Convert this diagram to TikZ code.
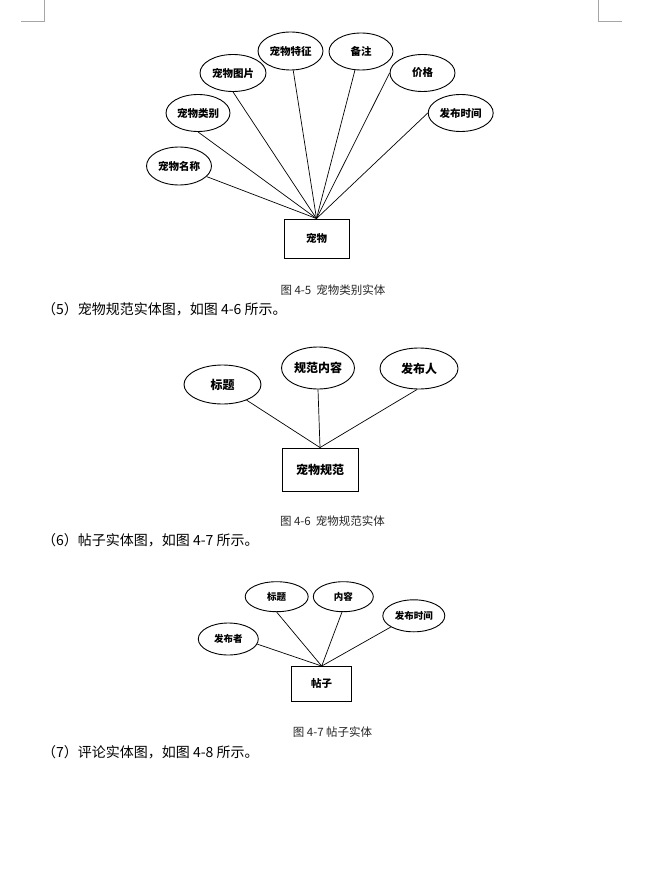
\documentclass[tikz,border=0pt]{standalone}
\usepackage{fontspec}
\setmainfont{Noto Sans CJK SC}
\usetikzlibrary{shapes.geometric}
\tikzset{
  attr/.style 2 args={ellipse,draw,line width=0.9pt,inner sep=0pt,minimum width=#1,minimum height=#2},
  entity/.style 2 args={rectangle,draw,line width=0.9pt,inner sep=0pt,minimum width=#1,minimum height=#2},
  link/.style={draw,line width=0.7pt},
  caption/.style={font=\fontsize{11.5}{13}\selectfont,text=black!85},
  para/.style={anchor=west,inner sep=0pt,font=\fontsize{14}{16}\selectfont},
  cropmark/.style={draw=black!35,line width=0.8pt}
}
\begin{document}
\begin{tikzpicture}[x=1pt,y=-1pt]
\useasboundingbox (0,0) rectangle (666,869);
% page corner marks
\draw[cropmark] (21,21.3) -- (44.3,21.3) -- (44.3,0);
\draw[cropmark] (598.3,0) -- (598.3,21.3) -- (621.7,21.3);

% figure 4-5
\begin{scope}[every node/.append style={font=\bfseries\fontsize{10.5}{12}\selectfont}]
\node[entity={65}{39}] (pet) at (316.5,238.5) {宠物};
\node[attr={65}{38}] (pname) at (179,166) {宠物名称};
\node[attr={64}{37}] (ptype) at (198,113) {宠物类别};
\node[attr={66}{37}] (ppic) at (233,73) {宠物图片};
\node[attr={65}{38}] (pfeat) at (290.5,51) {宠物特征};
\node[attr={64}{37}] (pnote) at (361,51.5) {备注};
\node[attr={65}{37}] (pprice) at (422.5,73) {价格};
\node[attr={65}{37}] (ptime) at (460.7,113) {发布时间};
\end{scope}
\draw[link] (pname.-21) -- (pet.north);
\draw[link] (ptype.-90) -- (pet.north);
\draw[link] (ppic.-90) -- (pet.north);
\draw[link] (pfeat.-82) -- (pet.north);
\draw[link] (pnote.-108) -- (pet.north);
\draw[link] (pprice.180) -- (pet.north);
\draw[link] (ptime.180) -- (pet.north);
\node[caption] (cap5) at (333,290) {图 4-5~~宠物类别实体};
\node[para] (par5) at (42,309) {（5）宠物规范实体图，如图 4-6 所示。};

% figure 4-6
\begin{scope}[every node/.append style={font=\bfseries\fontsize{12}{14}\selectfont}]
\node[entity={76}{43}] (spec) at (320,469.5) {宠物规范};
\node[attr={77}{39}] (stitle) at (222.5,384.5) {标题};
\node[attr={73}{42}] (sbody) at (318,368) {规范内容};
\node[attr={78}{41}] (sauthor) at (419,368.5) {发布人};
\end{scope}
\draw[link] (stitle.-33) -- (spec.north);
\draw[link] (sbody.-90) -- (spec.north);
\draw[link] (sauthor.-95) -- (spec.north);
\node[caption] (cap6) at (332.5,521) {图 4-6~~宠物规范实体};
\node[para] (par6) at (42,540) {（6）帖子实体图，如图 4-7 所示。};

% figure 4-7
\begin{scope}[every node/.append style={font=\bfseries\fontsize{9.5}{11}\selectfont}]
\node[entity={60}{35},font=\bfseries\fontsize{10.5}{12}\selectfont] (post) at (321.7,684) {帖子};
\node[attr={60}{32}] (qauthor) at (228.3,639) {发布者};
\node[attr={63}{30}] (qtitle) at (276.7,596.7) {标题};
\node[attr={60}{30}] (qbody) at (343.3,596.7) {内容};
\node[attr={62}{32}] (qtime) at (413.8,615.8) {发布时间};
\end{scope}
\draw[link] (qauthor.-10) -- (post.north);
\draw[link] (qtitle.-90) -- (post.north);
\draw[link] (qbody.-95) -- (post.north);
\draw[link] (qtime.-154) -- (post.north);
\node[caption] (cap7) at (332.5,732) {图 4-7 帖子实体};
\node[para] (par7) at (42,752) {（7）评论实体图，如图 4-8 所示。};
\end{tikzpicture}
\end{document}
